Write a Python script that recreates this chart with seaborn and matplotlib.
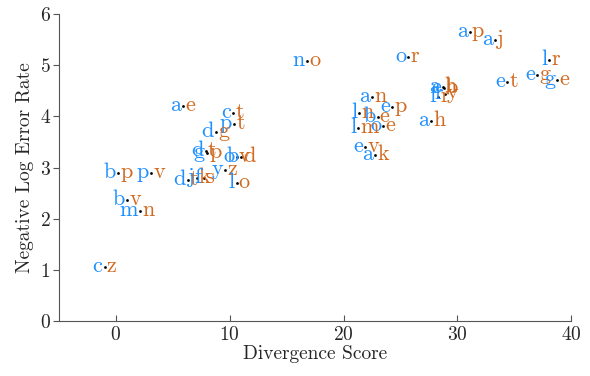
import seaborn as sns
import pandas as pd
import matplotlib
matplotlib.use('Agg')
import matplotlib.pyplot as plt

# divergence score / negative log error rate per letter pair
div_score = [-1.0, 2.1, 1.0, 0.2, 3.1, 5.9, 10.3, 10.4, 8.8, 7.9, 8.0,
             10.6, 11.0, 9.6, 10.6, 6.3, 7.1, 7.7,
             16.8, 25.7, 31.1, 33.3, 38.1, 37.0, 38.8, 34.4,
             28.7, 28.8, 28.3, 28.9, 27.7,
             22.5, 21.4, 24.3, 23.0, 23.5, 21.3, 21.9, 22.8]
neg_log_err = [1.05, 2.15, 2.36, 2.89, 2.89, 4.20, 4.06, 3.85, 3.69, 3.33, 3.29,
               3.21, 3.21, 2.96, 2.69, 2.75, 2.80, 2.79,
               5.08, 5.16, 5.64, 5.50, 5.10, 4.80, 4.71, 4.67,
               4.58, 4.56, 4.38, 4.44, 3.91,
               4.37, 4.06, 4.18, 3.98, 3.82, 3.77, 3.40, 3.24]
left_lbl = ['c', 'm', 'b', 'b', 'p', 'a', 'c', 'p', 'd', 'd', 'g',
            'o', 'b', 'y', 'l', 'd', 'j', 'f',
            'n', 'o', 'a', 'a', 'l', 'e', 'g', 'e',
            'a', 'e', 'f', 'r', 'a',
            'a', 'l', 'e', 'b', 'o', 'l', 'e', 'a']
right_lbl = ['z', 'n', 'v', 'p', 'v', 'e', 't', 't', 'g', 't', 'p',
             'v', 'd', 'z', 'o', 't', 'k', 's',
             'o', 'r', 'p', 'j', 'r', 'g', 'e', 't',
             'h', 'b', 'r', 'y', 'h',
             'n', 'n', 'p', 'e', 'e', 'm', 'v', 'k']

df = pd.DataFrame({'Divergence Score': div_score, 'Negative Log Error Rate': neg_log_err,
                   'left': left_lbl, 'right': right_lbl})

sns.set_style('ticks')
plt.rcParams['font.family'] = ['cmr10', 'DejaVu Serif']
plt.rcParams['axes.formatter.use_mathtext'] = True
plt.rcParams['axes.unicode_minus'] = False

fig = plt.figure(figsize=(5.9, 3.76), dpi=100)
ax = fig.add_axes([0.1, 0.146, 0.868, 0.817])

sns.scatterplot(data=df, x='Divergence Score', y='Negative Log Error Rate',
                color='black', s=4, linewidth=0, ax=ax, zorder=3)

for _, r in df.iterrows():
    ax.annotate(r['left'], (r['Divergence Score'], r['Negative Log Error Rate']),
                xytext=(-1.5, 0.5), textcoords='offset points', ha='right', va='center',
                color='#1E90FF', fontsize=16)
    ax.annotate(r['right'], (r['Divergence Score'], r['Negative Log Error Rate']),
                xytext=(1.5, 0.5), textcoords='offset points', ha='left', va='center',
                color='#D2691E', fontsize=16)

ax.set_xlim(-5, 40)
ax.set_ylim(0, 6)
ax.set_xticks([0, 10, 20, 30, 40])
ax.set_yticks([0, 1, 2, 3, 4, 5, 6])
ax.set_xlabel('Divergence Score', fontsize=14, labelpad=1)
ax.set_ylabel('Negative Log Error Rate', fontsize=14, labelpad=4)
ax.tick_params(axis='x', direction='in', length=4, labelsize=14, color='#555555')
ax.tick_params(axis='y', direction='out', length=4, labelsize=14, color='#555555', pad=2)
for s in ['left', 'bottom']:
    ax.spines[s].set_color('#555555')
sns.despine(ax=ax)

fig.savefig('out.png', dpi=100)
